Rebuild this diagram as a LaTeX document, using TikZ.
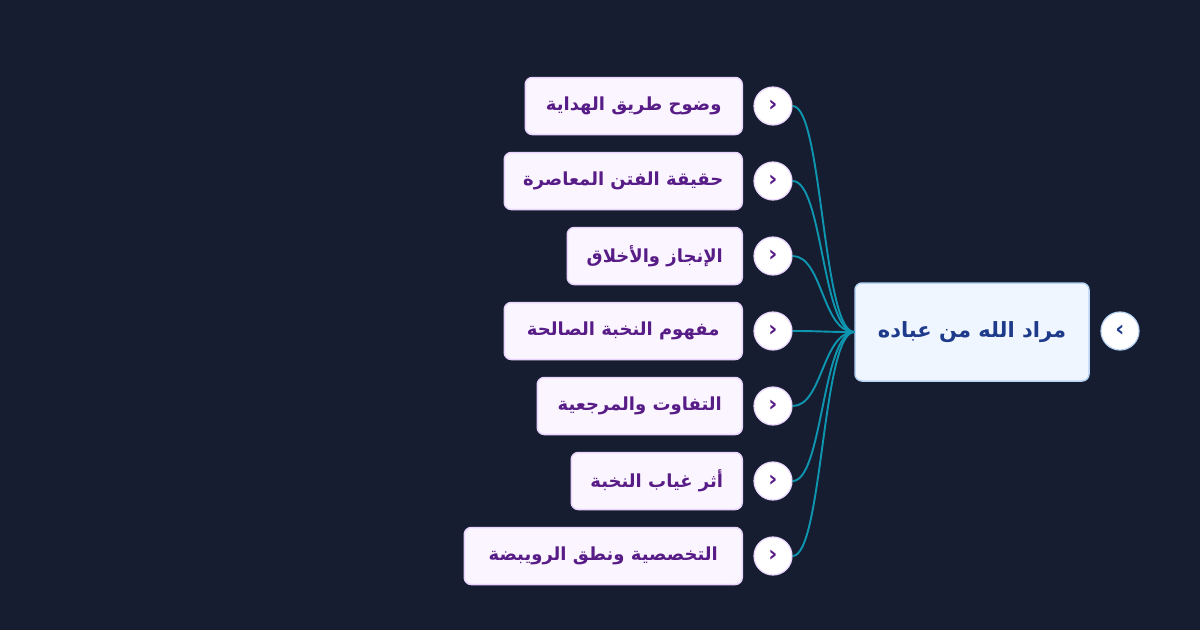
\documentclass[tikz,border=0pt]{standalone}
\usepackage{fontspec}
\TeXXeTstate=1
\newfontfamily\arabicfont[Script=Arabic]{DejaVu Sans}
\newfontfamily\symfont{DejaVu Sans}
\definecolor{nightbg}{RGB}{22,29,48}
\definecolor{rootfill}{RGB}{239,246,255}
\definecolor{rootline}{RGB}{186,212,246}
\definecolor{rootink}{RGB}{30,58,138}
\definecolor{leaffill}{RGB}{250,245,255}
\definecolor{leafline}{RGB}{233,213,255}
\definecolor{leafink}{RGB}{88,28,135}
\definecolor{linkteal}{RGB}{14,150,176}
\usetikzlibrary{positioning}

\begin{document}
\begin{tikzpicture}[x=1pt,y=-1pt,
  rootbox/.style={draw=rootline,fill=rootfill,line width=1.5pt,rounded corners=7pt,
    minimum width=234pt,minimum height=98pt,text=rootink,
    font=\arabicfont\bfseries\fontsize{21}{25}\selectfont},
  leafbox/.style={draw=leafline,fill=leaffill,line width=1.5pt,rounded corners=7pt,
    minimum height=57pt,anchor=east,text=leafink,
    font=\arabicfont\bfseries\fontsize{18}{22}\selectfont},
  knob/.style={circle,fill=white,line width=1.2pt,minimum size=38pt,inner sep=0pt,
    font=\symfont\bfseries\fontsize{22}{22}\selectfont},
  link/.style={draw=linkteal,line width=1.9pt}]
\fill[nightbg] (0,0) rectangle (1200,630);
\useasboundingbox (0,0) rectangle (1200,630);
% root
\node[rootbox] (root) at (972,332) {\beginR مراد الله من عباده\endR};
\node[knob,draw=rootline,text=rootink] (rootknob) at (1120,331) {\raisebox{1pt}{‹}};
% branches
\node[leafbox,minimum width=217pt] (b1) at (743,106) {\beginR وضوح طريق الهداية\endR};
\node[leafbox,minimum width=238pt] (b2) at (743,181) {\beginR حقيقة الفتن المعاصرة\endR};
\node[leafbox,minimum width=175pt] (b3) at (743,256) {\beginR الإنجاز والأخلاق\endR};
\node[leafbox,minimum width=238pt] (b4) at (743,331) {\beginR مفهوم النخبة الصالحة\endR};
\node[leafbox,minimum width=205pt] (b5) at (743,406) {\beginR التفاوت والمرجعية\endR};
\node[leafbox,minimum width=171pt] (b6) at (743,481) {\beginR أثر غياب النخبة\endR};
\node[leafbox,minimum width=278pt] (b7) at (743,556) {\beginR التخصصية ونطق الرويبضة\endR};
\foreach \i/\y in {1/106,2/181,3/256,4/331,5/406,6/481,7/556} {
  \node[knob,draw=leafline,text=leafink] (k\i) at (773,\y) {\raisebox{1pt}{›}};
  \draw[link] (k\i.east) .. controls +(30,0) and +(-32,0) .. (root.west);
}
\end{tikzpicture}
\end{document}
